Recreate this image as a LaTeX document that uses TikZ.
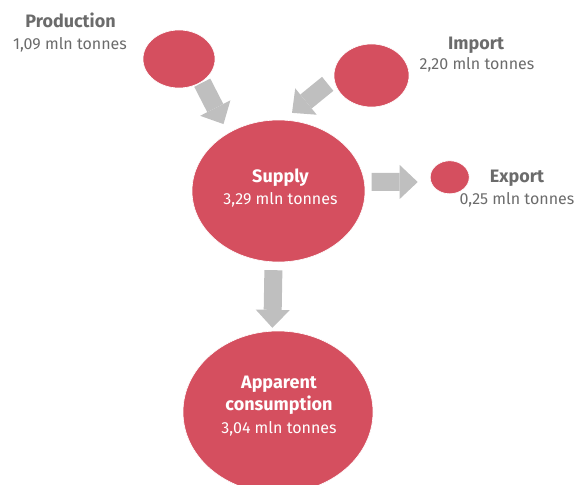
\documentclass[tikz,border=0pt]{standalone}
\usepackage{fontspec}
\setmainfont{Fira Sans}
\usetikzlibrary{shapes.geometric,arrows.meta}

\definecolor{blobred}{HTML}{D54F5F}
\definecolor{flowgray}{HTML}{BFBFBF}
\definecolor{capgray}{HTML}{6B6B6B}

\begin{document}
\begin{tikzpicture}[x=1pt, y=-1pt,
    blob/.style={ellipse, fill=blobred, draw=white, line width=0.6pt, inner sep=0pt},
    flow/.style={draw=flowgray, line width=18pt,
        -{Triangle[width=34pt, length=18pt, line width=0pt]}},
    title/.style={font=\fontsize{18}{22}\selectfont\bfseries, text=capgray,
        anchor=base, inner sep=0pt},
    amount/.style={font=\fontsize{16}{22}\selectfont, text=capgray,
        anchor=base, inner sep=0pt}]
    \useasboundingbox (0,0) rectangle (577,484);
    \clip (0,0) rectangle (577,484);

    % Blobs.
    \node[blob, minimum width=72pt,  minimum height=58pt]  (prod)   at (179,59)    {};
    \node[blob, minimum width=75pt,  minimum height=63pt]  (import) at (371.5,75.5) {};
    \node[blob, minimum width=173pt, minimum height=142pt] (supply) at (278.5,191) {};
    \node[blob, minimum width=39pt,  minimum height=33pt]  (export) at (449.7,177.3) {};
    \node[blob, minimum width=190pt, minimum height=162pt] (cons)   at (278,412)   {};

    % Flows.
    \draw[flow, shorten <=1pt, shorten >=10pt] (prod.-45)   -- (supply.131);
    \draw[flow, shorten <=8pt, shorten >=11pt] (import.185) -- (supply.86);
    \draw[flow, shorten <=7pt, shorten >=13pt] (supply.6)   -- (export.194);
    \draw[flow, shorten <=8pt, shorten >=3pt]  (supply.266) -- (cons.94);

    % Outside labels.
    \node[title]  (prodname) at (70.5,27.7) {Production};
    \node[amount] (prodval)  at (70,50)     {1,09 mln tonnes};
    \node[title]  (impname)  at (476,49.3)  {Import};
    \node[amount] (impval)   at (477,70)    {2,20 mln tonnes};
    \node[title]  (expname)  at (517,182.7) {Export};
    \node[amount] (expval)   at (517,204)   {0,25 mln tonnes};

    % Inside labels.
    \node[title, text=white]  (supname)  at (280.5,182.7) {Supply};
    \node[amount, text=white] (supval)   at (280.5,204)   {3,29 mln tonnes};
    \node[title, text=white]  (consname) at (279,388)     {Apparent};
    \node[title, text=white]  (conssub)  at (279,410.7)   {consumption};
    \node[amount, text=white] (consval)  at (279,433)     {3,04 mln tonnes};
\end{tikzpicture}
\end{document}
